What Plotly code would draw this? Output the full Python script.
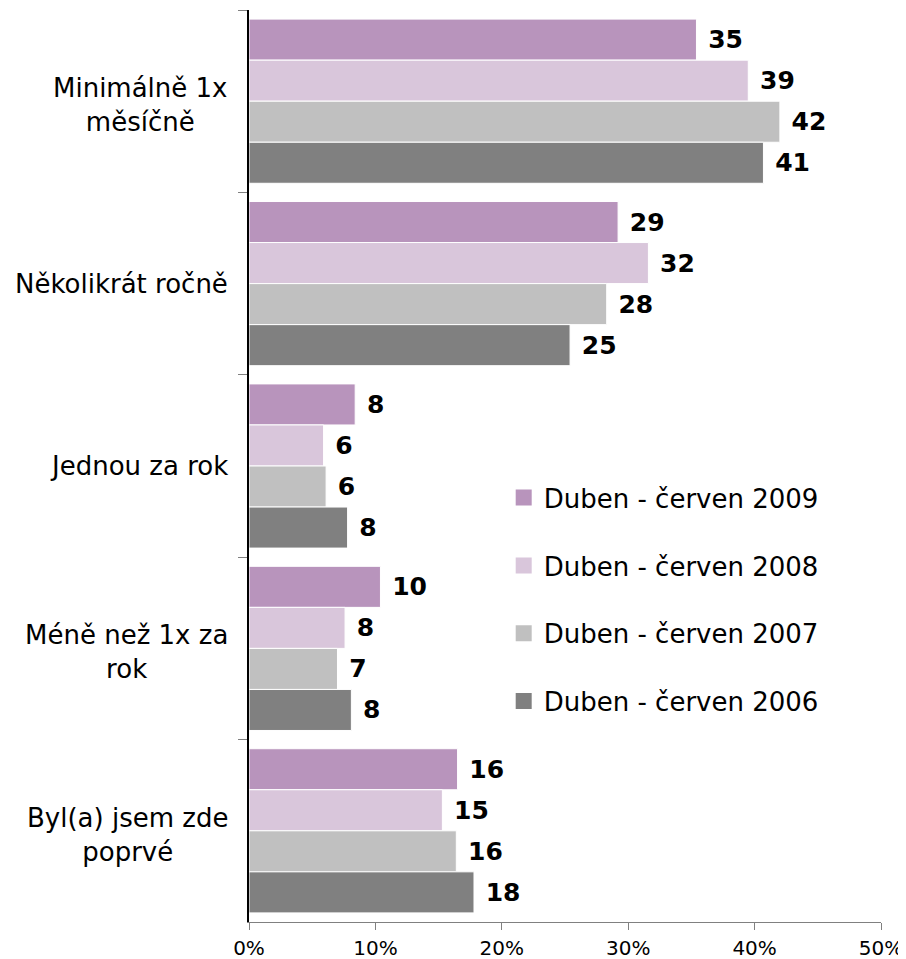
import plotly.graph_objects as go

categories = ["Minimálně 1x<br>měsíčně", "Několikrát ročně", "Jednou za rok",
              "Méně než 1x za<br>rok", "Byl(a) jsem zde<br>poprvé"]
cat_keys = ["c1", "c2", "c3", "c4", "c5"]
series_names = ["Duben - červen 2009", "Duben - červen 2008",
                "Duben - červen 2007", "Duben - červen 2006"]
values_2009 = [35.4, 29.2, 8.4, 10.4, 16.5]
values_2008 = [39.5, 31.6, 5.9, 7.6, 15.3]
values_2007 = [42.0, 28.3, 6.1, 7.0, 16.4]
values_2006 = [40.7, 25.4, 7.8, 8.1, 17.8]
labels_2009 = ["35", "29", "8", "10", "16"]
labels_2008 = ["39", "32", "6", "8", "15"]
labels_2007 = ["42", "28", "6", "7", "16"]
labels_2006 = ["41", "25", "8", "8", "18"]
colors = ["#B894BC", "#D9C6DB", "#C0C0C0", "#808080"]
x_ticks = [0, 10, 20, 30, 40, 50]
x_tick_labels = ["0%", "10%", "20%", "30%", "40%", "50%"]

FONT = "DejaVu Sans"
all_vals = [values_2009, values_2008, values_2007, values_2006]
all_labels = [labels_2009, labels_2008, labels_2007, labels_2006]

fig = go.Figure()
for i, (name, vals, labs, col) in enumerate(zip(series_names, all_vals, all_labels, colors)):
    fig.add_trace(go.Bar(
        y=cat_keys, x=vals, orientation="h", name=name,
        marker=dict(color=col, line=dict(color="white", width=1)),
        text=[" " + l for l in labs], textposition="outside",
        textfont=dict(family=FONT, size=25, color="black", weight="bold"),
        cliponaxis=False, showlegend=False,
    ))

# legend entries with larger square swatches
for i, (name, col) in enumerate(zip(series_names, colors)):
    fig.add_trace(go.Scatter(
        x=[None], y=[None], mode="markers", name=name,
        marker=dict(symbol="square", size=16, color=col),
        legendgroup=f"g{i}", showlegend=True,
    ))

for key, lab in zip(cat_keys, categories):
    fig.add_annotation(x=-0.03, xref="paper", y=key, yref="y", text=lab,
                       xanchor="right", align="center", showarrow=False,
                       yshift=-4 if "<br>" in lab else 0,
                       font=dict(family=FONT, size=26, color="black"))

fig.update_layout(
    width=906, height=959,
    margin=dict(l=241, r=33, t=2, b=45),
    paper_bgcolor="white", plot_bgcolor="white",
    barmode="group", bargap=0.1, bargroupgap=0.0,
    font=dict(family=FONT, color="black"),
    showlegend=True,
    legend=dict(x=0.403, y=0.491, xanchor="left", yanchor="top",
                bgcolor="rgba(0,0,0,0)", font=dict(family=FONT, size=26, color="black"),
                tracegroupgap=31, itemsizing="trace"),
    xaxis=dict(range=[0, 50], tickvals=x_ticks, ticktext=x_tick_labels,
               showgrid=False, zeroline=False, showline=True, linecolor="#808080",
               linewidth=1, ticks="outside", ticklen=7, tickcolor="#808080",
               ticklabelstandoff=1,
               tickfont=dict(family=FONT, size=20, color="black")),
    yaxis=dict(autorange="reversed", showticklabels=False, showgrid=False,
               showline=True, linecolor="black", linewidth=1.5,
               ticks="outside", tickson="boundaries", ticklen=9, tickcolor="#808080"),
)

fig.write_html("out.html")
